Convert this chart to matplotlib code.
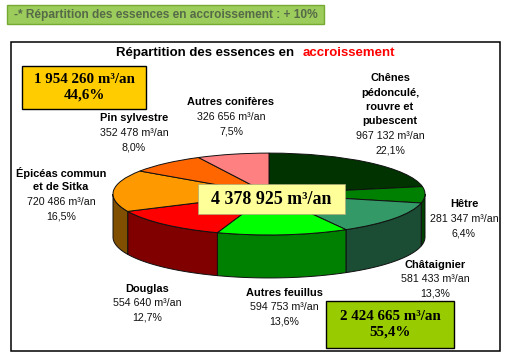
import numpy as np
import matplotlib
matplotlib.use("Agg")
import matplotlib.pyplot as plt
from matplotlib.patches import Rectangle

W, H = 510, 357

names = ["Chênes\npédonculé,\nrouvre et\npubescent", "Hêtre", "Châtaignier", "Autres feuillus",
         "Douglas", "Épicéas commun\net de Sitka", "Pin sylvestre", "Autres conifères"]
volumes = [967132, 281347, 581433, 594753, 554640, 720486, 352478, 326656]
percents = ["22,1%", "6,4%", "13,3%", "13,6%", "12,7%", "16,5%", "8,0%", "7,5%"]
top_colors = ["#003300", "#008000", "#339966", "#00ff00", "#ff0000", "#ff9900", "#ff6600", "#ff8080"]
side_colors = ["#001a00", "#004000", "#1a4d33", "#008000", "#800000", "#805000", "#803300", "#804040"]

banner_text = "-* Répartition des essences en accroissement : + 10%"
total_text = "4 378 925 m³/an"
resineux_text = "1 954 260 m³/an\n44,6%"
feuillus_text = "2 424 665 m³/an\n55,4%"

# label centres in pixels, first line of each block
label_pos = [(390, 78), (464, 204), (435, 265), (284, 293), (147, 289), (61, 173), (134, 118), (231, 102)]

SANS = "Liberation Sans"
SERIF = "Liberation Serif"
LINE = 14.5
DEPTH = 1.05


def fmt_volume(v):
    return f"{v:,}".replace(",", " ") + " m³/an"


def add_box(ax, x0, y0, x1, y1, color, edge="black", lw=1.0, zorder=3):
    ax.add_patch(Rectangle((x0, y0), x1 - x0, y1 - y0, facecolor=color, edgecolor=edge, linewidth=lw, zorder=zorder))


def draw_pie():
    # ellipse in pixels: centre (269, 194), radii 156 x 41
    left, right = 113, 425
    top, bottom = 149, 280
    ax = fig.add_axes([left / W, 1 - bottom / H, (right - left) / W, (bottom - top) / H])
    ax.pie(volumes, colors=top_colors, startangle=90, counterclock=False, radius=1,
           wedgeprops={"edgecolor": "#101010", "linewidth": 0.7})
    ax.set_aspect("auto")
    ax.set_xlim(-1, 1)
    ax.set_ylim(-2.1, 1.1)
    ax.axis("off")

    fractions = np.array(volumes) / sum(volumes)
    ends = 90 - 360 * np.cumsum(fractions)
    starts = np.r_[90, ends[:-1]]
    for a0, a1, color in zip(starts, ends, side_colors):
        a0, a1 = min(a0, 0), max(a1, -180)
        if a0 <= a1:
            continue
        t = np.radians(np.linspace(a0, a1, 60))
        xs = np.cos(t)
        ys = np.sin(t)
        ax.fill(np.r_[xs, xs[::-1]], np.r_[ys, ys[::-1] - DEPTH], facecolor=color,
                edgecolor="#101010", linewidth=0.7, clip_on=False, zorder=0)


fig = plt.figure(figsize=(W / 100, H / 100), dpi=100, facecolor="white")
draw_pie()

over = fig.add_axes([0, 0, 1, 1], facecolor="none")
over.set_xlim(0, W)
over.set_ylim(H, 0)
over.axis("off")

add_box(over, 7, 5, 324, 24, "#9ccc5c", edge="#77aa33", lw=1.0)
over.text(14, 15, banner_text, family=SANS, weight="bold", fontsize=8.6, color="#566a48", va="center", zorder=4)

add_box(over, 11.5, 41.5, 500.5, 351, "none", lw=1.1, zorder=1)
over.text(116, 53, "Répartition des essences en", family=SANS, weight="bold", fontsize=9.5, color="black", va="center")
over.text(303, 53, "accroissement", family=SANS, weight="bold", fontsize=9.5, color="#ff0000", va="center")

for name, vol, pct, (x, y) in zip(names, volumes, percents, label_pos):
    lines = name.split("\n")
    for i, line in enumerate(lines):
        over.text(x, y + i * LINE, line, family=SANS, weight="bold", fontsize=7.9, ha="center", va="center", color="black")
    n = len(lines)
    over.text(x, y + n * LINE, fmt_volume(vol), family=SANS, fontsize=7.7, ha="center", va="center", color="#111111")
    over.text(x, y + (n + 1) * LINE, pct, family=SANS, fontsize=7.7, ha="center", va="center", color="#111111")

add_box(over, 22, 66, 146, 109, "#ffcc00")
over.text(84, 87.5, resineux_text, family=SERIF, weight="bold", fontsize=10.8, ha="center", va="center", zorder=4, linespacing=1.25)
add_box(over, 326, 301, 454, 348, "#99cc00")
over.text(390, 324.5, feuillus_text, family=SERIF, weight="bold", fontsize=10.8, ha="center", va="center", zorder=4, linespacing=1.25)
add_box(over, 198, 184, 345, 214, "#ffff99", edge="#aaaa77", lw=0.5)
over.text(271, 199, total_text, family=SERIF, weight="bold", fontsize=12.9, ha="center", va="center", zorder=4)

fig.savefig("out.png", dpi=100)
